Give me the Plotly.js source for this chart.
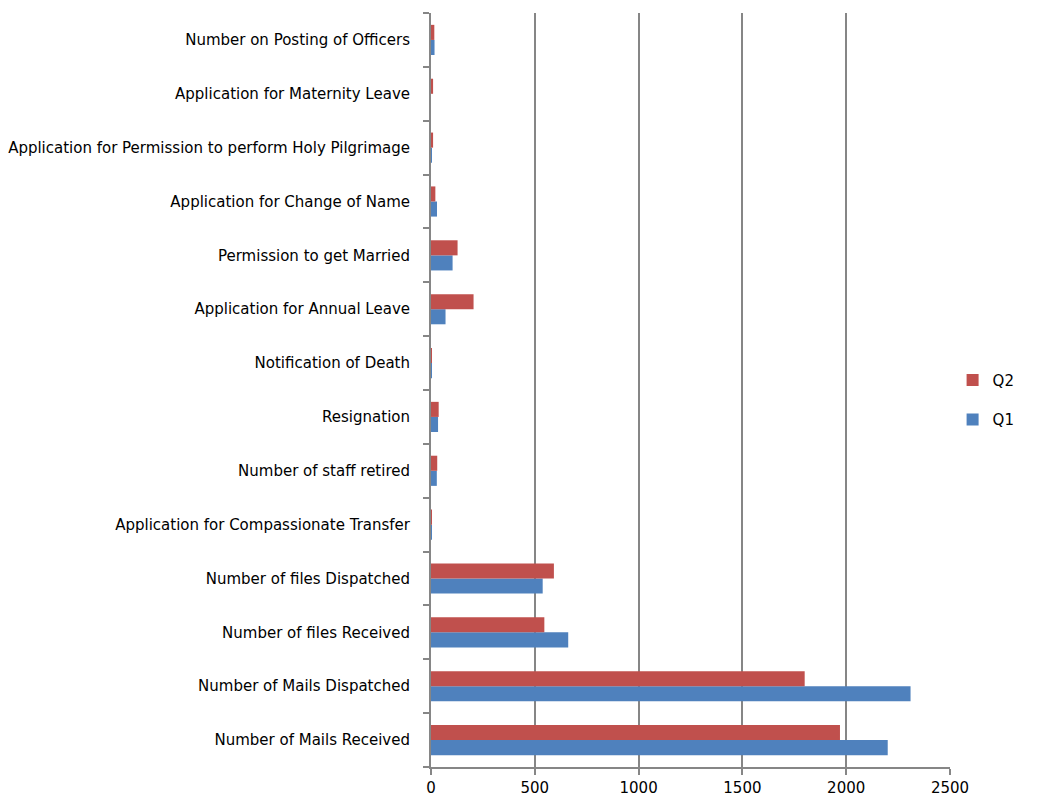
<!DOCTYPE html>
<html><head><meta charset="utf-8">
<script src="https://cdn.plot.ly/plotly-3.0.1.min.js"></script>
<style>body{margin:0;background:#fff}#chart{width:1047px;height:797px}</style>
</head><body><div id="chart"></div>
<script>
const categories = [
  "Number of Mails Received",
  "Number of Mails Dispatched",
  "Number of files Received",
  "Number of files Dispatched",
  "Application for Compassionate Transfer",
  "Number of staff retired",
  "Resignation",
  "Notification of Death",
  "Application for Annual Leave",
  "Permission to get Married",
  "Application for Change of Name",
  "Application for Permission to perform Holy Pilgrimage",
  "Application for Maternity Leave",
  "Number on Posting of Officers"
];
const q1 = [2200, 2310, 661, 538, 1, 28, 34, 1, 70, 104, 29, 1, 0, 17];
const q2 = [1970, 1800, 546, 592, 2, 30, 37, 2, 205, 128, 21, 10, 10, 16];
const xTicks = [0, 500, 1000, 1500, 2000, 2500];

const font = {family: "DejaVu Sans, sans-serif", size: 15, color: "#000"};
const data = [
  {type: "bar", orientation: "h", name: "Q1", y: categories, x: q1,
   marker: {color: "#4F81BD"}, legendgroup: "a", legendrank: 2},
  {type: "bar", orientation: "h", name: "Q2", y: categories, x: q2,
   marker: {color: "#C0504D"}, legendgroup: "b", legendrank: 1}
];
const layout = {
  width: 1047, height: 797,
  margin: {l: 431, r: 97, t: 13, b: 30},
  paper_bgcolor: "#fff", plot_bgcolor: "#fff",
  font: font,
  barmode: "group", bargap: 0.44, bargroupgap: 0,
  showlegend: true,
  legend: {x: 1.005, y: 0.487, yanchor: "middle", traceorder: "grouped", tracegroupgap: 17,
           font: {family: "DejaVu Sans, sans-serif", size: 15}, itemwidth: 30},
  xaxis: {range: [0, 2500], tickvals: xTicks, ticktext: xTicks.map(String),
          showgrid: true, gridcolor: "#868686", gridwidth: 2,
          showline: true, linecolor: "#868686", linewidth: 2,
          ticks: "outside", ticklen: 6, tickcolor: "#868686", tickwidth: 2,
          zeroline: false, fixedrange: true},
  yaxis: {type: "category", categoryorder: "array", categoryarray: categories,
          showline: true, linecolor: "#868686", linewidth: 2,
          ticks: "outside", ticklen: 6, tickcolor: "#868686", tickwidth: 2,
          tickson: "boundaries", showgrid: false, ticklabelstandoff: 16}
};
Plotly.newPlot("chart", data, layout, {displayModeBar: false});
</script></body></html>
